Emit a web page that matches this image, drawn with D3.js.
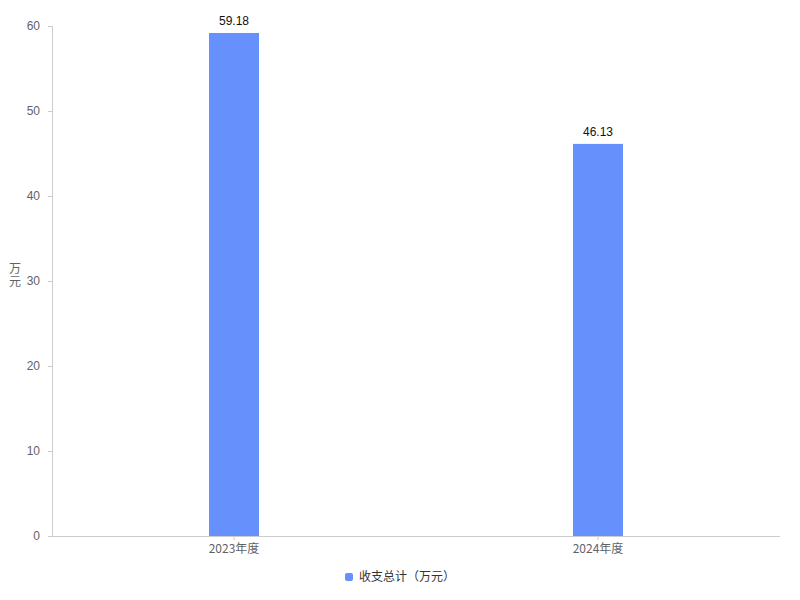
<!DOCTYPE html>
<html>
<head>
<meta charset="utf-8">
<script src="https://cdn.jsdelivr.net/npm/d3@7"></script>
<style>
  body { margin: 0; background: #fff; }
  svg text { font-family: "Noto Sans CJK SC", "Liberation Sans", sans-serif; }
</style>
</head>
<body>
<svg id="chart" width="800" height="600"></svg>
<script>
const categories = ['2023年度', '2024年度'];
const values = [59.18, 46.13];
const yTicks = [0, 10, 20, 30, 40, 50, 60];
const seriesName = '收支总计（万元）';
const unitLabel = '万元';

const barColor = '#6690fc';
const axisColor = '#cccccc';
const textColor = '#5f6368';

const m = {top: 26, right: 20, bottom: 64, left: 52};
const W = 800, H = 600;
const iw = W - m.left - m.right, ih = H - m.top - m.bottom;

const svg = d3.select('#chart');
const g = svg.append('g').attr('transform', 'translate(' + m.left + ',' + m.top + ')');

const x = d3.scaleBand().domain(categories).range([0, iw]);
const y = d3.scaleLinear().domain([0, 60]).range([ih, 0]);
const barW = 50;

// y axis
const yAx = g.append('g').call(d3.axisLeft(y).tickValues(yTicks).tickSize(4).tickPadding(8));
yAx.selectAll('path, line').attr('stroke', axisColor);
yAx.selectAll('text').attr('fill', textColor).attr('font-size', 12)
	.style('font-family', '"Liberation Sans", sans-serif');

// x axis
const xAx = g.append('g').attr('transform', 'translate(0,' + ih + ')')
	.call(d3.axisBottom(x).tickSize(4).tickPadding(4).tickSizeOuter(0));
xAx.select('path').attr('stroke', axisColor).attr('d', 'M0,0.5H' + iw);
xAx.selectAll('line').attr('stroke', axisColor);
xAx.selectAll('text').attr('fill', textColor).attr('font-size', 12);

// bars
g.selectAll('.bar').data(values).enter()
	.append('rect')
	.attr('class', 'bar')
	.attr('x', (d, i) => x(categories[i]) + x.bandwidth() / 2 - barW / 2)
	.attr('y', d => y(d))
	.attr('width', barW)
	.attr('height', d => ih - y(d))
	.attr('fill', barColor);

g.selectAll('.lbl').data(values).enter()
	.append('text')
	.attr('class', 'lbl')
	.attr('x', (d, i) => x(categories[i]) + x.bandwidth() / 2)
	.attr('y', d => y(d) - 8)
	.attr('text-anchor', 'middle')
	.attr('font-size', 12)
	.attr('fill', '#111')
	.style('font-family', '"Liberation Sans", sans-serif')
	.text(d => d.toFixed(2));

// unit label, written vertically
svg.append('text')
	.attr('x', 15)
	.attr('y', 275)
	.attr('text-anchor', 'middle')
	.attr('font-size', 12)
	.attr('fill', textColor)
	.style('writing-mode', 'vertical-rl')
	.style('text-orientation', 'upright')
	.style('letter-spacing', '1px')
	.text(unitLabel);

// legend
const lg = svg.append('g').attr('transform', 'translate(345,577)');
lg.append('rect').attr('x', 0).attr('y', -4).attr('width', 8).attr('height', 8)
	.attr('rx', 2).attr('fill', barColor);
lg.append('text').attr('x', 14).attr('y', 4).attr('font-size', 12)
	.attr('fill', '#333').text(seriesName);
</script>
</body>
</html>
